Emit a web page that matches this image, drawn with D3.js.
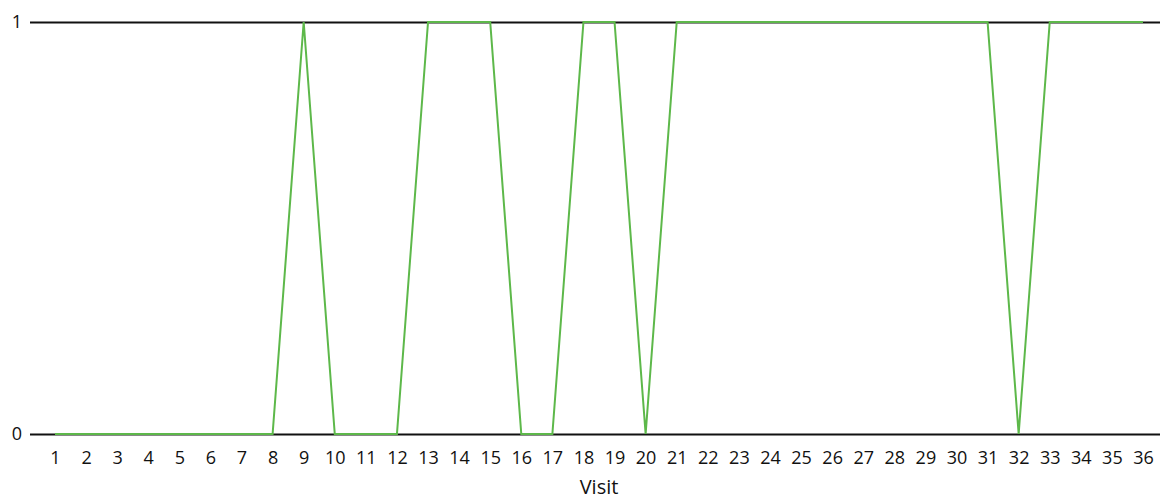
<!DOCTYPE html>
<html><head><meta charset="utf-8">
<script src="https://cdn.jsdelivr.net/npm/d3@7"></script>
<style>body{margin:0;background:#fff}svg{display:block}text{font-family:"Open Sans","Noto Sans",sans-serif;fill:#111}</style>
</head><body><svg id="c" width="1160" height="501"></svg>
<script>
const visits = d3.range(1, 37).map(String);
const values = [0,0,0,0,0,0,0,0,1,0,0,0,1,1,1,0,0,1,1,0,1,1,1,1,1,1,1,1,1,1,1,0,1,1,1,1];
const yTicks = [0, 1];
const xTitle = "Visit";

const svg = d3.select("#c");
const x = d3.scalePoint().domain(visits).range([55, 1143]);
const y = d3.scaleLinear().domain([0, 1]).range([434, 22]);

const yAxis = svg.append("g").attr("transform", "translate(30,0)")
  .call(d3.axisLeft(y).tickValues(yTicks).tickFormat(d3.format("d")).tickSize(-1130).tickPadding(8));
yAxis.select(".domain").remove();
yAxis.selectAll("line").attr("stroke", "#111").attr("stroke-width", 2);
yAxis.selectAll("text").attr("font-size", 18);

const xAxis = svg.append("g").attr("transform", "translate(0,434)")
  .call(d3.axisBottom(x).tickSize(0).tickPadding(17));
xAxis.select(".domain").remove();
xAxis.selectAll("text").attr("font-size", 18);

svg.append("text").attr("x", 599).attr("y", 494).attr("text-anchor", "middle")
  .attr("font-size", 20).text(xTitle);

svg.append("path").datum(values)
  .attr("fill", "none").attr("stroke", "#5db84a").attr("stroke-width", 2)
  .attr("d", d3.line().x((d, i) => x(visits[i])).y(d => y(d)));
</script></body></html>
